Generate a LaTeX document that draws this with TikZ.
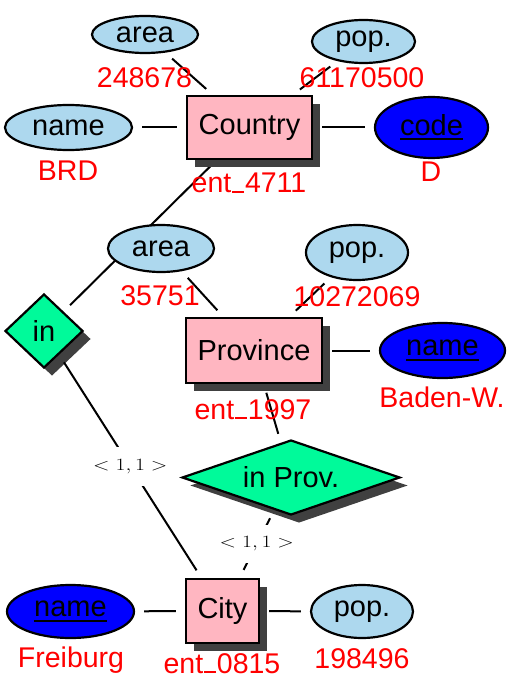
\documentclass[tikz,border=0pt]{standalone}
\usepackage{fontspec}
\setmainfont{Liberation Sans}
\usepackage{graphicx}
\usetikzlibrary{shapes.geometric,shadows}
\definecolor{attrc}{RGB}{173,216,238}
\definecolor{keyc}{RGB}{0,0,255}
\definecolor{entc}{RGB}{255,182,193}
\definecolor{relc}{RGB}{0,250,154}
\definecolor{shadc}{RGB}{64,64,64}
\pgfdeclarelayer{bg}
\pgfsetlayers{bg,main}
\newcommand\myus{\kern.03em\rule{0.42em}{0.07em}\kern.03em}
\newcommand\myul[1]{\leavevmode\setbox0\hbox{#1}\rlap{\rule[-0.17em]{\wd0}{0.07em}}\box0}
\newcommand\cardtext{\scalebox{1.25}[1]{$<1,1>$}}
\begin{document}
\begin{tikzpicture}[x=1pt,y=-1pt,
  basebox/.style={font=\fontsize{29}{33}\selectfont, inner sep=0pt, line width=2.2pt, draw=black},
  shad/.style={drop shadow={shadow xshift=8pt, shadow yshift=-8pt, fill=shadc, opacity=1}},
  entity/.style={basebox, rectangle, fill=entc, shad},
  attrib/.style={basebox, ellipse, fill=attrc},
  keyattrib/.style={basebox, ellipse, fill=keyc},
  relship/.style={basebox, diamond, fill=relc, shad},
  val/.style={font=\fontsize{28.5}{32}\selectfont, text=red, anchor=base, inner sep=0pt},
  link/.style={line width=2pt, shorten <=9pt, shorten >=9pt},
  card/.style={fill=white, inner xsep=4pt, inner ysep=12pt, font=\fontsize{17}{20}\selectfont}
]
\useasboundingbox (0,0) rectangle (506,679);

% Country
\node[entity, minimum width=125pt, minimum height=63pt] (country) at (249.5,127.5) {Country};
\node[attrib, minimum width=106pt, minimum height=37pt] (carea) at (145,34.5) {area};
\node[attrib, minimum width=103pt, minimum height=43pt] (cpop) at (363.5,41.5) {pop.};
\node[attrib, minimum width=127pt, minimum height=45pt] (cname) at (68.5,127.5) {name};
\node[keyattrib, minimum width=113pt, minimum height=61pt] (ccode) at (431.5,127.5) {\myul{code}};
\node[val] (v1) at (144.5,88) {248678};
\node[val] (v2) at (362,88) {61170500};
\node[val] (v3) at (68,180) {BRD};
\node[val] (v4) at (431,182) {D};
\node[val] (v5) at (249,193) {ent\myus 4711};

% in
\node[relship, minimum width=78pt, minimum height=74pt] (inrel) at (44,331) {in};

% Province
\node[entity, minimum width=136pt, minimum height=65pt] (prov) at (254,350.5) {Province};
\node[attrib, minimum width=106pt, minimum height=47pt] (parea) at (161,248.5) {area};
\node[attrib, minimum width=102pt, minimum height=55pt] (ppop) at (357,252.5) {pop.};
\node[keyattrib, minimum width=125pt, minimum height=55pt] (pname) at (442.5,350.5) {\myul{name}};
\node[val] (v6) at (160,305) {35751};
\node[val] (v7) at (357,306) {10272069};
\node[val] (v8) at (253,419) {ent\myus 1997};
\node[val] (v9) at (442,407) {Baden-W.};

% in Prov.
\node[relship, shape aspect=2.87, minimum width=218pt, minimum height=75pt] (inprov) at (291,477.5) {in Prov.};

% City
\node[entity, minimum width=73pt, minimum height=64pt] (city) at (222.5,611) {City};
\node[keyattrib, minimum width=127pt, minimum height=53pt] (tname) at (70.5,611.5) {\myul{name}};
\node[attrib, minimum width=102pt, minimum height=53pt] (tpop) at (362,611.5) {pop.};
\node[val] (v10) at (71,667) {Freiburg};
\node[val] (v11) at (222,673) {ent\myus 0815};
\node[val] (v12) at (362,668) {198496};

\begin{pgfonlayer}{bg}
\draw[link] (carea) -- (country);
\draw[link] (cpop) -- (country);
\draw[link] (cname) -- (country);
\draw[link] (country) -- (ccode);
\draw[link] (country) -- (inrel);
\draw[link] (parea) -- (prov);
\draw[link] (ppop) -- (prov);
\draw[link] (prov) -- (pname);
\draw[link] (prov) -- (inprov);
\draw[link] (tname) -- (city);
\draw[link] (city) -- (tpop);
\end{pgfonlayer}
\draw[link] (inrel) -- node[card] (c1) {\cardtext} (city);
\draw[link] (inprov) -- node[card] (c2) {\cardtext} (city);
\end{tikzpicture}
\end{document}
